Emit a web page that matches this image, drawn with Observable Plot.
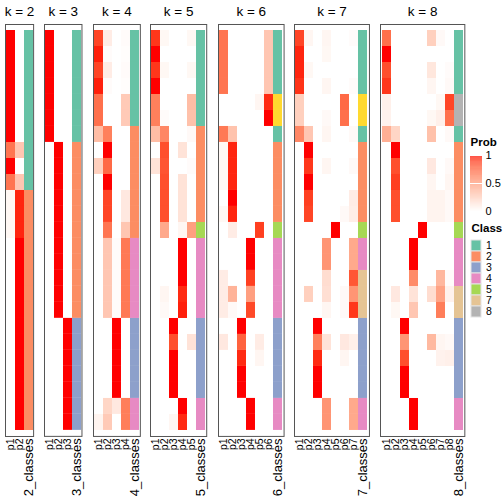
<!DOCTYPE html>
<html><head><meta charset="utf-8">
<script src="https://cdn.jsdelivr.net/npm/d3@7"></script>
<script src="https://cdn.jsdelivr.net/npm/@observablehq/plot@0.6"></script>
<style>
html,body{margin:0;padding:0;background:#fff;}
#wrap{position:relative;width:504px;height:504px;overflow:hidden;font-family:"Liberation Sans",Arial,sans-serif;}
#wrap svg{position:absolute;overflow:visible;background:transparent;}
</style></head>
<body><div id="wrap"></div>
<script>
// ---- data ----
const kValues = [2, 3, 4, 5, 6, 7, 8];

const probK2 = [
 [1,0],[1,0],[1,0],[1,0],[1,0],[1,0],[1,0],
 [0.7,0.3],[1,0],[0.7,0.3],
 [0.04,0.96],[0.04,0.96],[0.04,0.96],
 [0,1],[0,1],[0,1],[0,1],[0,1],[0,1],[0,1],[0,1],[0,1],[0,1],[0,1],[0,1]
];
const classK2 = [1,1,1,1,1,1,1,1,1,1,2,2,2,2,2,2,2,2,2,2,2,2,2,2,2];

const probK3 = [
 [1,0,0],[1,0,0],[1,0,0],[1,0,0],[1,0,0],[1,0,0],[1,0,0],
 [0,1,0],[0,1,0],[0,1,0],[0,1,0],[0,1,0],[0,1,0],[0,1,0],[0,1,0],[0,1,0],[0,1,0],[0,1,0],
 [0,0,1],[0,0,1],[0,0,1],[0,0,1],[0,0,1],[0,0,1],[0,0,1]
];
const classK3 = [1,1,1,1,1,1,1,2,2,2,2,2,2,2,2,2,2,2,3,3,3,3,3,3,3];

const probK4 = [
 [0.88,0.1,0,0.02],[0.97,0.02,0,0.01],[0.88,0.1,0,0.02],[0.97,0.02,0,0.01],
 [0.72,0,0,0.28],[0.72,0,0,0.28],
 [0.35,0.65,0,0],[0,1,0,0],[0.25,0.75,0,0],[0,1,0,0],
 [0,0.88,0,0.12],[0,0.88,0,0.12],[0,0.7,0,0.3],
 [0,0.3,0.02,0.68],[0,0.3,0.02,0.68],[0,0.3,0.02,0.68],[0,0.3,0.02,0.68],[0,0.3,0.02,0.68],
 [0,0,1,0],[0,0,1,0],[0,0,1,0],[0,0,1,0],[0,0,1,0],
 [0,0.22,0.12,0.66],[0.06,0.28,0,0.66]
];
const classK4 = [1,1,1,1,1,1,2,2,2,2,2,2,2,4,4,4,4,4,3,3,3,3,3,4,4];

const probK5 = [
 [0.92,0.04,0,0,0.04],[1,0,0,0,0],[0.92,0.04,0,0,0.04],[1,0,0,0,0],
 [0.65,0,0,0,0.35],[0.65,0.02,0,0,0.33],
 [0.35,0.62,0,0,0.03],[0,0.85,0,0.15,0],[0.15,0.83,0,0,0.02],
 [0,0.85,0,0.15,0],[0,0.85,0,0.15,0],[0,0.85,0,0.15,0],
 [0,0.45,0,0.05,0.5],
 [0,0,0,1,0],[0,0,0,1,0],[0,0,0,1,0],[0,0.05,0,0.95,0],[0,0.03,0,0.97,0],
 [0,0,1,0,0],[0,0,0.85,0,0.15],[0,0,1,0,0],[0,0,1,0,0],[0,0,1,0,0],
 [0,0,0,1,0],[0,0,0.05,0.95,0]
];
const classK5 = [1,1,1,1,1,1,2,2,2,2,2,2,5,4,4,4,4,4,3,3,3,3,3,4,4];

const probK6 = [
 [0.7,0,0,0,0,0.3],[0.7,0,0,0,0,0.3],[0.7,0,0,0,0,0.3],[0.7,0,0,0,0,0.3],
 [0,0,0,0,0.05,0.95],[0,0,0,0,0,1],
 [0.68,0.32,0,0,0,0],
 [0.04,0.96,0,0,0,0],[0.04,0.96,0,0,0,0],[0.04,0.96,0,0,0,0],[0,1,0,0,0,0],[0.04,0.96,0,0,0,0],
 [0,0.1,0,0,0.9,0],
 [0,0,0,1,0,0],[0,0,0,1,0,0],[0.1,0,0,0.9,0,0],[0.1,0.4,0,0.5,0,0],[0.1,0.03,0,0.87,0,0],
 [0,0,1,0,0,0],[0.12,0,0.78,0,0.1,0],[0,0,0.95,0,0.05,0],[0,0,1,0,0,0],[0,0,1,0,0,0],
 [0,0,0,1,0,0],[0,0,0,1,0,0]
];
const classK6 = [1,1,1,1,6,6,1,2,2,2,2,2,5,4,4,4,4,4,3,3,3,3,3,4,4];

const probK7 = [
 [0.88,0.05,0,0.05,0,0,0.02],[0.96,0,0,0.04,0,0,0],[0.96,0.04,0,0,0,0,0],[0.93,0,0,0.05,0,0,0.02],
 [0.25,0,0,0,0,0.75,0],[0.25,0,0,0.03,0,0.72,0],
 [0.62,0.3,0,0.05,0,0,0.03],
 [0,1,0,0,0,0,0],[0,0.92,0,0.05,0,0,0.03],[0,1,0,0,0,0,0],[0,0.9,0,0,0,0,0.1],[0,0.88,0,0,0,0.03,0.09],
 [0,0,0,0,1,0,0],
 [0,0,0,0.55,0,0,0.45],[0,0,0,0.55,0,0,0.45],
 [0,0,0,0.18,0,0,0.82],[0,0.25,0,0.17,0,0.03,0.55],[0,0,0,0.05,0,0.03,0.92],
 [0,0,1,0,0,0,0],[0,0,0.65,0.15,0,0.12,0.08],[0,0,0.95,0,0,0.05,0],[0,0,1,0,0,0,0],[0,0,1,0,0,0,0],
 [0,0,0,0.55,0,0,0.45],[0,0,0,0.55,0,0,0.45]
];
const classK7 = [1,1,1,1,6,6,1,2,2,2,2,2,5,4,4,7,7,7,3,3,3,3,3,4,4];

const probK8 = [
 [0.72,0,0,0,0,0.25,0.03,0],[1,0,0,0,0,0,0,0],[0.85,0,0,0,0,0.13,0,0.02],[0.92,0,0,0,0,0.05,0,0.03],
 [0.08,0,0,0,0,0,0.04,0.88],[0.07,0,0,0,0,0.04,0.08,0.72],
 [0.42,0.22,0,0,0,0.33,0,0.03],
 [0,1,0,0,0,0,0,0],[0,0.85,0,0,0,0.12,0,0.03],[0,0.9,0,0,0,0.05,0,0.05],
 [0,0.85,0,0,0,0.06,0.06,0.03],[0,0.85,0,0,0,0.06,0.06,0.03],
 [0,0,0,0,1,0,0,0],
 [0,0,0,1,0,0,0,0],[0,0,0,1,0,0,0,0],[0,0,0,0.6,0,0,0.38,0.02],
 [0,0.12,0,0.15,0,0.18,0.48,0.07],[0,0.04,0,0.3,0,0,0.66,0],
 [0,0,1,0,0,0,0,0],[0,0,0.55,0,0,0.37,0.05,0.03],[0,0,0.85,0,0,0,0.07,0.08],[0,0,1,0,0,0,0,0],[0,0,1,0,0,0,0,0],
 [0,0,0,1,0,0,0,0],[0,0,0,1,0,0,0,0]
];
const classK8 = [1,1,1,1,8,8,1,2,2,2,2,2,5,4,4,4,7,7,3,3,3,3,3,4,4];

const classDomain = ["1","2","3","4","5","6","7","8"];
const classColors = ["#66C2A5","#FC8D62","#8DA0CB","#E78AC3","#A6D854","#FFD92F","#E5C494","#B3B3B3"];
const legendClasses = ["1","2","3","4","5","7","8"];
const probTicks = [0, 0.5, 1];

// ---- scales ----
const probScale = Plot.scale({color: {type: "linear", domain: [0, 1], range: ["white", "red"], interpolate: "lab"}});
const classScale = Plot.scale({color: {type: "ordinal", domain: classDomain, range: classColors}});

const panels = [
  {k: 2, prob: probK2, cls: classK2},
  {k: 3, prob: probK3, cls: classK3},
  {k: 4, prob: probK4, cls: classK4},
  {k: 5, prob: probK5, cls: classK5},
  {k: 6, prob: probK6, cls: classK6},
  {k: 7, prob: probK7, cls: classK7},
  {k: 8, prob: probK8, cls: classK8}
];

// ---- layout ----
const wrap = document.getElementById("wrap");
const colW = 9.37, gap = 11, left0 = 5, bodyTop = 24, bodyBottom = 436, H = 504;
const font = "Liberation Sans, Arial, sans-serif";
let left = left0;

for (const p of panels) {
  const pCols = d3.range(1, p.k + 1).map(i => "p" + i);
  const classCol = p.k + "_classes";
  const cols = [...pCols, classCol];
  const rows = d3.range(p.prob.length);
  const cells = [];
  rows.forEach(r => {
    p.prob[r].forEach((v, j) => cells.push({row: r, col: pCols[j], fill: probScale.apply(v)}));
    cells.push({row: r, col: classCol, fill: classScale.apply(String(p.cls[r]))});
  });
  const W = colW * cols.length;
  const chart = Plot.plot({
    width: W, height: H,
    marginTop: bodyTop, marginBottom: H - bodyBottom, marginLeft: 0, marginRight: 0,
    style: {fontFamily: font, background: "transparent", overflow: "visible"},
    x: {type: "band", domain: cols, padding: 0, axis: null},
    y: {type: "band", domain: rows, padding: 0, axis: null},
    color: {type: "identity"},
    marks: [
      Plot.cell(cells, {x: "col", y: "row", fill: "fill"}),
      Plot.frame({stroke: "#555", strokeWidth: 1}),
      Plot.text(["k = " + p.k], {frameAnchor: "top", dy: -8, lineAnchor: "bottom", fontSize: 13.5, fill: "black"}),
      Plot.text(pCols, {x: d => d, frameAnchor: "bottom", dy: 2, rotate: -90, textAnchor: "end", lineAnchor: "middle", fontSize: 10.5, fill: "black"}),
      Plot.text([classCol], {x: d => d, frameAnchor: "bottom", dy: 2, rotate: -90, textAnchor: "end", lineAnchor: "middle", fontSize: 13, fill: "black"})
    ]
  });
  chart.style.left = left + "px";
  chart.style.top = "0px";
  wrap.appendChild(chart);
  left += W + gap;
}

// ---- Prob legend ----
const steps = d3.range(0, 1, 0.01);
const probLegend = Plot.plot({
  width: 38, height: 90, marginTop: 20, marginBottom: 14, marginLeft: 4, marginRight: 22,
  style: {fontFamily: font, background: "transparent", overflow: "visible"},
  x: {domain: [0, 1], axis: null},
  y: {domain: [0, 1], axis: null},
  color: {type: "identity"},
  marks: [
    Plot.rect(steps, {x1: () => 0, x2: () => 1, y1: d => d, y2: d => Math.min(1, d + 0.0101), fill: d => probScale.apply(d + 0.005)}),
    Plot.tickY(probTicks, {y: d => d, x1: () => 0, x2: () => 0.2, stroke: "white", strokeWidth: 1}),
    Plot.tickY(probTicks, {y: d => d, x1: () => 0.8, x2: () => 1, stroke: "white", strokeWidth: 1}),
    Plot.text(probTicks, {x: () => 1, y: d => d, dx: 3, textAnchor: "start", text: d => String(d), fontSize: 11, fill: "black"}),
    Plot.text(["Prob"], {frameAnchor: "top-left", dy: -10, dx: 0, textAnchor: "start", lineAnchor: "bottom", fontWeight: "bold", fontSize: 11.5, fill: "black"})
  ]
});
probLegend.style.left = "466px";
probLegend.style.top = "135px";
wrap.appendChild(probLegend);

// ---- Class legend ----
const classLegend = Plot.plot({
  width: 38, height: 100, marginTop: 17.3, marginBottom: 4.3, marginLeft: 5, marginRight: 23,
  style: {fontFamily: font, background: "transparent", overflow: "visible"},
  x: {type: "band", domain: ["s"], padding: 0, axis: null},
  y: {type: "band", domain: legendClasses, padding: 0, axis: null},
  color: {type: "identity"},
  marks: [
    Plot.cell(legendClasses, {x: () => "s", y: d => d, fill: d => classScale.apply(d), stroke: "#e4e4e4", strokeWidth: 1}),
    Plot.text(legendClasses, {x: () => "s", y: d => d, dx: 9.5, textAnchor: "start", text: d => d, fontSize: 10.5, fill: "black"}),
    Plot.text(["Class"], {frameAnchor: "top-left", dy: -8, textAnchor: "start", lineAnchor: "bottom", fontWeight: "bold", fontSize: 11.5, fill: "black"})
  ]
});
classLegend.style.left = "466px";
classLegend.style.top = "222px";
wrap.appendChild(classLegend);
</script>
</body></html>
